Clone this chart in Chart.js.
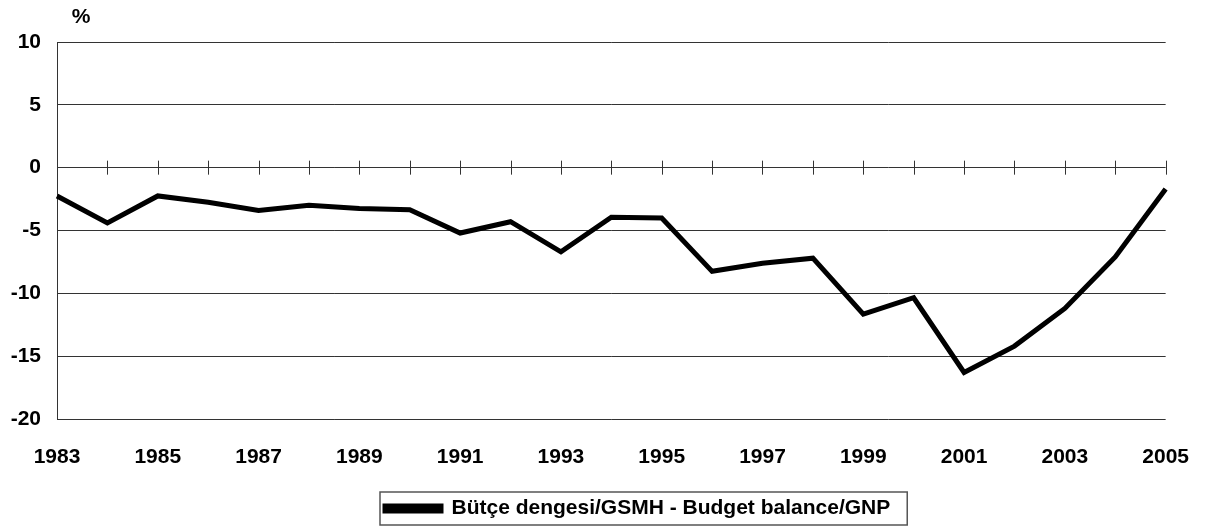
<!DOCTYPE html>
<html>
<head>
<meta charset="utf-8">
<script src="https://cdn.jsdelivr.net/npm/chart.js@4"></script>
<style>
  body { margin: 0; background: #fff; }
  #wrap { width: 1207px; height: 529px; position: relative; }
</style>
</head>
<body>
<div id="wrap"><canvas id="chart"></canvas></div>
<script>
var years = ['1983','1984','1985','1986','1987','1988','1989','1990','1991','1992','1993',
             '1994','1995','1996','1997','1998','1999','2000','2001','2002','2003','2004','2005'];
var balance = [-2.25, -4.4, -2.25, -2.75, -3.4, -3.0, -3.25, -3.35, -5.2, -4.3, -6.7,
               -3.95, -4.0, -8.25, -7.6, -7.2, -11.65, -10.35, -16.3, -14.2, -11.2, -7.1, -1.7];
var yTicks = [-20, -15, -10, -5, 0, 5, 10];
var seriesName = 'Bütçe dengesi/GSMH - Budget balance/GNP';
var unitLabel = '%';

var fontFam = '"Liberation Sans", Arial, sans-serif';

// ticks crossing the zero line, the % label and the legend frame
var extras = {
  id: 'extras',
  afterLayout: function (chart) {
    // legend sits right of centre in the original
    chart.legend.left = 377;
  },
  afterDraw: function (chart) {
    var ctx = chart.ctx;
    var xs = chart.scales.x, ys = chart.scales.y;
    var y0 = ys.getPixelForValue(0);
    ctx.save();
    ctx.strokeStyle = '#333';
    ctx.lineWidth = 1;
    for (var i = 0; i < years.length; i++) {
      var x = Math.round(xs.getPixelForValue(i)) + 0.5;
      ctx.beginPath();
      ctx.moveTo(x, y0 - 7);
      ctx.lineTo(x, y0 + 7);
      ctx.stroke();
    }
    ctx.fillStyle = '#000';
    ctx.font = 'bold 21px ' + fontFam;
    ctx.textAlign = 'center';
    ctx.textBaseline = 'middle';
    ctx.fillText(unitLabel, 81, 17);

    var hb = chart.legend.legendHitBoxes[0];
    if (hb) {
      ctx.strokeStyle = '#555';
      ctx.lineWidth = 1.5;
      ctx.strokeRect(hb.left - 5, hb.top - 6, hb.width + 22, hb.height + 12);
    }
    ctx.restore();
  }
};

new Chart(document.getElementById('chart'), {
  type: 'line',
  data: {
    labels: years,
    datasets: [{
      label: seriesName,
      data: balance,
      borderColor: '#000',
      backgroundColor: '#000',
      borderWidth: 5,
      pointRadius: 0,
      tension: 0
    }]
  },
  options: {
    responsive: true,
    maintainAspectRatio: false,
    animation: false,
    layout: { padding: { left: 0, right: 35, top: 42, bottom: 0 } },
    plugins: {
      tooltip: { enabled: false },
      legend: {
        position: 'bottom',
        align: 'start',
        labels: {
          color: '#000',
          font: { family: fontFam, size: 21, weight: 'bold' },
          boxWidth: 56,
          boxHeight: 5,
          padding: 8
        }
      }
    },
    scales: {
      x: {
        afterFit: function (s) { s.height = 71; },
        grid: { display: false },
        border: { display: false },
        ticks: {
          autoSkip: false,
          maxRotation: 0,
          padding: 18,
          color: '#000',
          font: { family: fontFam, size: 21, weight: 'bold' },
          callback: function (v, i) { return i % 2 === 0 ? years[i] : ''; }
        }
      },
      y: {
        min: -20,
        max: 10,
        afterFit: function (s) { s.width = 57; },
        afterBuildTicks: function (s) { s.ticks = yTicks.map(function (v) { return { value: v }; }); },
        grid: { color: '#333', drawTicks: false, lineWidth: 1 },
        border: { display: true, color: '#333', width: 1 },
        ticks: {
          padding: 16,
          color: '#000',
          font: { family: fontFam, size: 21, weight: 'bold' }
        }
      }
    }
  },
  plugins: [extras]
});
</script>
</body>
</html>
